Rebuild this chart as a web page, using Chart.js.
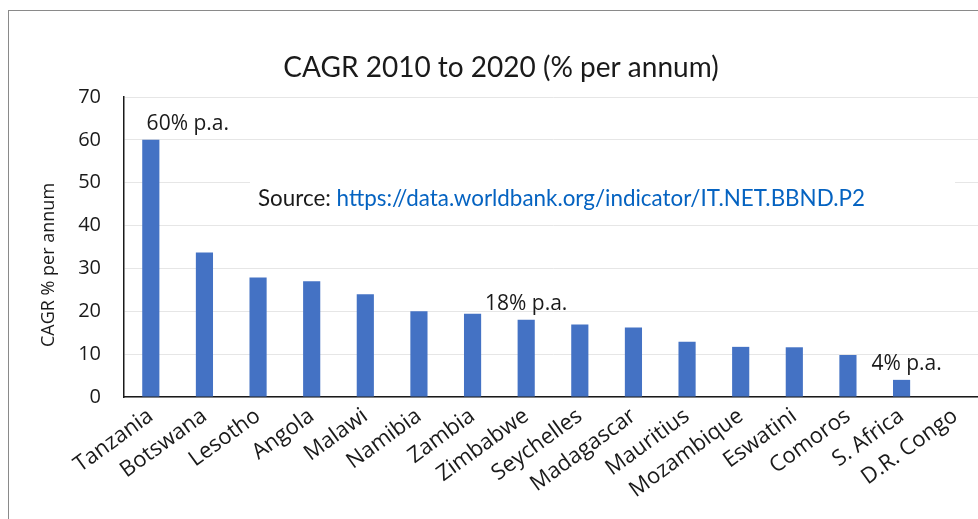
<!DOCTYPE html>
<html>
<head>
<meta charset="utf-8">
<title>CAGR 2010 to 2020</title>
<script src="https://cdn.jsdelivr.net/npm/chart.js@4.4.1/dist/chart.umd.min.js"></script>
<style>
    html, body { margin: 0; padding: 0; background: #fff; overflow: hidden; }
    #wrap { position: relative; width: 978px; height: 519px; overflow: hidden; }
    #wrap canvas { position: absolute; left: 0; top: 0; }
    #frame {
        position: absolute; left: 8px; top: 10px; right: 0; bottom: 0;
        border-top: 1px solid #8a8a8a; border-left: 1px solid #8a8a8a;
        pointer-events: none;
    }
</style>
</head>
<body>
<div id="wrap">
    <canvas id="cagrChart" width="982" height="519" style="width:982px;height:519px"></canvas>
    <div id="frame"></div>
</div>
<script>
const countries = ["Tanzania", "Botswana", "Lesotho", "Angola", "Malawi", "Namibia", "Zambia", "Zimbabwe",
    "Seychelles", "Madagascar", "Mauritius", "Mozambique", "Eswatini", "Comoros", "S. Africa", "D.R. Congo"];
const cagr = [60, 33.7, 27.9, 27, 24, 20, 19.4, 18, 16.9, 16.2, 12.9, 11.7, 11.6, 9.8, 4, 0];
const yTicks = [0, 10, 20, 30, 40, 50, 60, 70];
const calloutText = ["60% p.a.", "18% p.a.", "4% p.a."];
const calloutIndex = [0, 7, 14];

const chartTitle = "CAGR 2010 to 2020 (% per annum)";
const yTitle = "CAGR % per annum";
const sourceLabel = "Source: ";
const sourceUrl = "https://data.worldbank.org/indicator/IT.NET.BBND.P2";

const TITLE_FONT = "Lato, sans-serif";
const FONT = "'Open Sans', sans-serif";
Chart.defaults.font.family = FONT;
Chart.defaults.color = "#1a1a1a";

// title, y title, source note and the "% p.a." callouts
const textLayer = {
    id: "textLayer",
    afterDraw(chart) {
        const ctx = chart.ctx;
        const x = chart.scales.x;
        const y = chart.scales.y;
        ctx.save();

        ctx.fillStyle = "#1a1a1a";
        ctx.font = "28px " + TITLE_FONT;
        ctx.textAlign = "center";
        ctx.textBaseline = "middle";
        ctx.fillText(chartTitle, 501, 68);

        ctx.save();
        ctx.translate(49, 265);
        ctx.rotate(-Math.PI / 2);
        ctx.font = "18px " + FONT;
        ctx.fillText(yTitle, 0, 0);
        ctx.restore();

        // white box under the source note hides the gridline behind it
        ctx.fillStyle = "#ffffff";
        ctx.fillRect(250, 172, 705, 46);
        ctx.font = "22.4px " + TITLE_FONT;
        ctx.textAlign = "left";
        ctx.fillStyle = "#1a1a1a";
        ctx.fillText(sourceLabel, 258, 199);
        const w = ctx.measureText(sourceLabel).width;
        ctx.fillStyle = "#0563c1";
        ctx.fillText(sourceUrl, 258 + w, 199);

        const shift = [37, 0, 5];
        ctx.font = "21px " + FONT;
        ctx.fillStyle = "#1a1a1a";
        ctx.textAlign = "center";
        ctx.textBaseline = "alphabetic";
        calloutIndex.forEach((idx, i) => {
            const cx = x.getPixelForValue(idx);
            const top = y.getPixelForValue(cagr[idx]);
            ctx.fillText(calloutText[i], cx + shift[i], top - 10);
        });
        ctx.restore();
    }
};

new Chart(document.getElementById("cagrChart"), {
    type: "bar",
    data: {
        labels: countries,
        datasets: [{
            data: cagr,
            backgroundColor: "#4472c4",
            borderWidth: 0,
            categoryPercentage: 1,
            barPercentage: 0.32
        }]
    },
    options: {
        responsive: false,
        animation: false,
        layout: { padding: { top: 97, right: 0, left: 0, bottom: 0 } },
        plugins: {
            legend: false,
            tooltip: { enabled: false }
        },
        scales: {
            x: {
                grid: { display: false, drawTicks: false },
                border: { display: true, color: "#1a1a1a", width: 1.5 },
                ticks: {
                    autoSkip: false,
                    minRotation: 36,
                    maxRotation: 36,
                    padding: 6,
                    font: { size: 22 }
                },
                afterFit(scale) { scale.height = 122; }
            },
            y: {
                min: 0,
                max: 70,
                afterBuildTicks(scale) { scale.ticks = yTicks.map(v => ({ value: v })); },
                grid: { color: "#e6e6e6", drawTicks: false, lineWidth: 1 },
                border: { display: true, color: "#1a1a1a", width: 1.5 },
                ticks: {
                    padding: 23,
                    font: { size: 20 }
                },
                afterFit(scale) { scale.width = 124; }
            }
        }
    },
    plugins: [textLayer]
});
</script>
</body>
</html>
